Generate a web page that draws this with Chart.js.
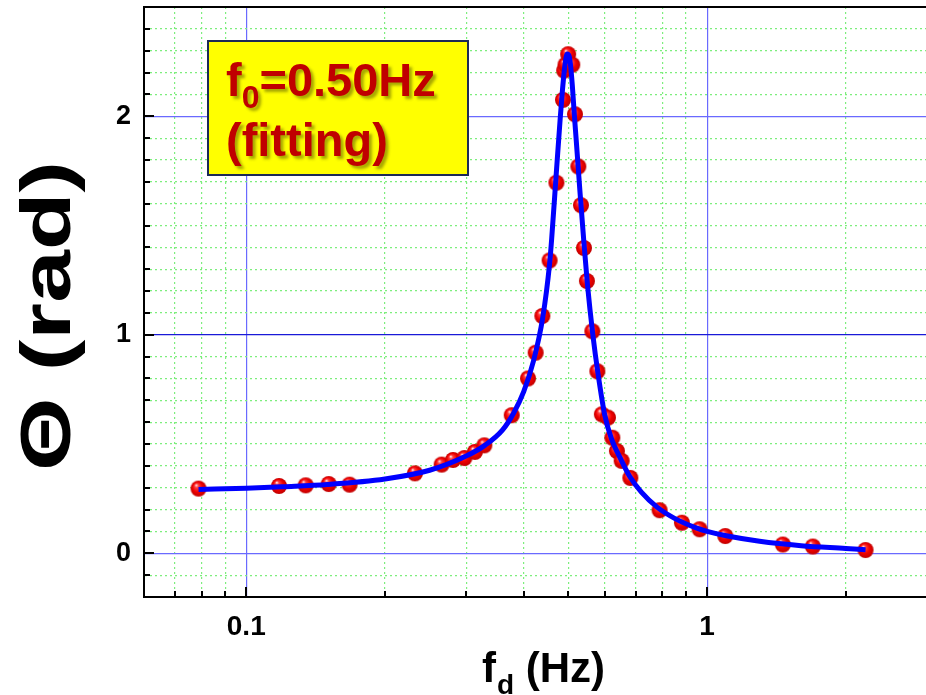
<!DOCTYPE html>
<html>
<head>
<meta charset="utf-8">
<script src="https://cdn.jsdelivr.net/npm/chart.js@4.4.1/dist/chart.umd.min.js"></script>
<style>
  html, body { margin: 0; padding: 0; background: #fff; overflow: hidden; }
  #wrap { position: relative; width: 926px; height: 695px; overflow: hidden; }
  #c { position: absolute; left: 0; top: -2px; }
</style>
</head>
<body>
<div id="wrap"><canvas id="c" width="936" height="697"></canvas></div>
<script>
// ---- measured data (driving frequency in Hz, amplitude in rad) ----
const measFreq = [0.0788, 0.1178, 0.1346, 0.151, 0.1676, 0.2323, 0.2655, 0.281, 0.2974, 0.3134,
  0.3286, 0.3767, 0.4087, 0.4246, 0.439, 0.4552, 0.471, 0.4866, 0.4896, 0.4930,
  0.4995, 0.5099, 0.5167, 0.5255, 0.5324, 0.5405, 0.5485, 0.5636, 0.5778, 0.591,
  0.6093, 0.6229, 0.6372, 0.6525, 0.6814, 0.7886, 0.8817, 0.963, 1.095, 1.46, 1.696, 2.207];
const measTheta = [0.296, 0.308, 0.311, 0.317, 0.314, 0.366, 0.406, 0.427, 0.436, 0.464,
  0.494, 0.632, 0.800, 0.918, 1.086, 1.340, 1.696, 2.075, 2.209, 2.236,
  2.284, 2.236, 2.009, 1.770, 1.593, 1.397, 1.246, 1.016, 0.833, 0.636,
  0.621, 0.529, 0.468, 0.423, 0.345, 0.197, 0.140, 0.110, 0.079, 0.040, 0.031, 0.015];

// ---- fitted curve ----
const fitFreq = [0.0788, 0.1, 0.12, 0.15, 0.2, 0.25, 0.3, 0.33, 0.36, 0.38, 0.40, 0.42, 0.44,
  0.455, 0.46, 0.47, 0.48, 0.485, 0.49, 0.493, 0.497, 0.502, 0.505, 0.51, 0.515, 0.52, 0.525,
  0.53, 0.54, 0.55, 0.565, 0.58, 0.60, 0.62, 0.65, 0.68, 0.72, 0.78, 0.85, 0.95, 1.0, 1.1,
  1.3, 1.6, 2.0, 2.207];
const fitTheta = [0.292, 0.298, 0.305, 0.315, 0.340, 0.380, 0.445, 0.495, 0.565, 0.640, 0.740,
  0.880, 1.080, 1.320, 1.440, 1.720, 1.990, 2.110, 2.210, 2.255, 2.285, 2.275, 2.240, 2.140,
  2.010, 1.890, 1.770, 1.650, 1.430, 1.230, 1.000, 0.820, 0.630, 0.525, 0.430, 0.350, 0.280,
  0.210, 0.160, 0.115, 0.100, 0.080, 0.055, 0.035, 0.022, 0.016];

// ---- axis ticks ----
const xMajorTicks = [0.1, 1];
const xMinorTicks = [0.06, 0.07, 0.08, 0.09, 0.2, 0.3, 0.4, 0.5, 0.6, 0.7, 0.8, 0.9, 2, 3];
const xTickLabels = {0.1: '0.1', 1: '1'};
const yMajorTicks = [0, 1, 2];
const yMinorTicks = [-0.2, -0.1, 0.1, 0.2, 0.3, 0.4, 0.5, 0.6, 0.7, 0.8, 0.9,
  1.1, 1.2, 1.3, 1.4, 1.5, 1.6, 1.7, 1.8, 1.9, 2.1, 2.2, 2.3, 2.4, 2.5];

const xTitleMain = 'f';
const xTitleSub = 'd';
const xTitleRest = ' (Hz)';
const yTitle = 'Θ (rad)';
const noteMain = 'f';
const noteSub = '0';
const noteRest = '=0.50Hz';
const noteLine2 = '(fitting)';

const FONT = '"Liberation Sans", Arial, sans-serif';
const OY = 2; // canvas is shifted up by 2px on the page

function makeSphere(r) {
  const c = document.createElement('canvas');
  c.width = c.height = r * 2 + 2;
  const g = c.getContext('2d');
  const cx = r + 1, cy = r + 1;
  const grad = g.createRadialGradient(cx - r * 0.3, cy - r * 0.45, r * 0.05, cx, cy, r);
  grad.addColorStop(0, '#ffe0e0');
  grad.addColorStop(0.2, '#ff4040');
  grad.addColorStop(0.6, '#f00000');
  grad.addColorStop(1, '#c00000');
  g.fillStyle = grad;
  g.beginPath(); g.arc(cx, cy, r, 0, Math.PI * 2); g.fill();
  return c;
}
const sphere = makeSphere(8);

const isMajorX = v => xMajorTicks.some(t => Math.abs(t - v) < 1e-9);
const isMajorY = v => yMajorTicks.some(t => Math.abs(t - v) < 1e-9);

const decorPlugin = {
  id: 'decor',
  beforeDatasetsDraw(chart) {
    const ctx = chart.ctx;
    ctx.save();
    ctx.fillStyle = '#ffff00';
    ctx.fillRect(208, 41 + OY, 260, 134);
    ctx.strokeStyle = '#1b2a55';
    ctx.lineWidth = 2;
    ctx.strokeRect(208, 41 + OY, 260, 134);
    ctx.shadowColor = 'rgba(60,60,0,0.45)';
    ctx.shadowBlur = 3;
    ctx.shadowOffsetX = 3;
    ctx.shadowOffsetY = 3;
    ctx.fillStyle = '#c00000';
    ctx.textBaseline = 'alphabetic';
    ctx.textAlign = 'left';
    let x = 226;
    ctx.font = 'bold 47px ' + FONT;
    ctx.fillText(noteMain, x, 96 + OY);
    x += ctx.measureText(noteMain).width;
    ctx.font = 'bold 32px ' + FONT;
    ctx.fillText(noteSub, x, 108 + OY);
    x += ctx.measureText(noteSub).width;
    ctx.font = 'bold 47px ' + FONT;
    ctx.fillText(noteRest, x, 96 + OY);
    ctx.fillText(noteLine2, 226, 156 + OY);
    ctx.restore();
  },
  afterDraw(chart) {
    const ctx = chart.ctx;
    const a = chart.chartArea;
    const xs = chart.scales.x, ys = chart.scales.y;
    ctx.save();
    ctx.strokeStyle = '#000';
    ctx.lineWidth = 2;
    // top frame line
    ctx.beginPath(); ctx.moveTo(a.left - 1, a.top); ctx.lineTo(a.right, a.top); ctx.stroke();
    // inward ticks on y axis
    [...yMajorTicks, ...yMinorTicks].forEach(v => {
      const y = Math.round(ys.getPixelForValue(v));
      const len = isMajorY(v) ? 10 : 6;
      ctx.beginPath(); ctx.moveTo(a.left, y); ctx.lineTo(a.left + len, y); ctx.stroke();
    });
    // inward ticks on x axis
    [...xMajorTicks, ...xMinorTicks].forEach(v => {
      const x = Math.round(xs.getPixelForValue(v));
      const len = isMajorX(v) ? 10 : 6;
      ctx.beginPath(); ctx.moveTo(x, a.bottom); ctx.lineTo(x, a.bottom - len); ctx.stroke();
    });
    // axis titles
    ctx.fillStyle = '#000';
    ctx.textBaseline = 'alphabetic';
    ctx.textAlign = 'left';
    let x = 482;
    ctx.font = 'bold 42px ' + FONT;
    ctx.fillText(xTitleMain, x, 682 + OY);
    x += ctx.measureText(xTitleMain).width + 1;
    ctx.font = 'bold 28px ' + FONT;
    ctx.fillText(xTitleSub, x, 694 + OY);
    x += ctx.measureText(xTitleSub).width;
    ctx.font = 'bold 42px ' + FONT;
    ctx.fillText(xTitleRest, x, 682 + OY);

    ctx.translate(70, 316 + OY);
    ctx.rotate(-Math.PI / 2);
    ctx.font = 'bold 70px ' + FONT;
    const w = ctx.measureText(yTitle).width;
    const sx = 310 / w;
    ctx.scale(sx, 1);
    ctx.textAlign = 'center';
    ctx.fillText(yTitle, 0, 0);
    ctx.restore();
  }
};

new Chart(document.getElementById('c'), {
  type: 'scatter',
  data: {
    datasets: [
      {
        label: 'fit',
        data: fitFreq.map((f, i) => ({x: f, y: fitTheta[i]})),
        showLine: true,
        borderColor: '#0000ff',
        borderWidth: 5,
        pointRadius: 0,
        cubicInterpolationMode: 'monotone',
        order: 0
      },
      {
        label: 'data',
        data: measFreq.map((f, i) => ({x: f, y: measTheta[i]})),
        pointStyle: sphere,
        pointRadius: 8,
        order: 1
      }
    ]
  },
  options: {
    responsive: false,
    animation: false,
    layout: { padding: { top: 9, right: 9, left: 0, bottom: 0 } },
    plugins: { legend: { display: false }, tooltip: { enabled: false } },
    scales: {
      x: {
        type: 'logarithmic',
        min: 0.06,
        max: 3,
        afterBuildTicks: s => { s.ticks = [...xMinorTicks, ...xMajorTicks].sort((p, q) => p - q).map(v => ({value: v})); },
        afterFit: s => { s.height = 98; s.paddingLeft = 0; s.paddingRight = 0; },
        ticks: {
          autoSkip: false,
          maxRotation: 0,
          padding: 13,
          color: '#000',
          font: { family: FONT, size: 28, weight: 'bold' },
          callback: v => xTickLabels[v] !== undefined ? xTickLabels[v] : ''
        },
        grid: {
          drawTicks: false,
          color: c => (c.tick && isMajorX(c.tick.value)) ? '#6a6aff' : '#7dee7d',
          lineWidth: 1.2
        },
        border: {
          display: true,
          color: '#000',
          width: 2,
          dash: c => (c.tick && !isMajorX(c.tick.value)) ? [2, 3] : []
        }
      },
      y: {
        type: 'linear',
        min: -0.2,
        max: 2.5,
        afterBuildTicks: s => { s.ticks = [...yMinorTicks, ...yMajorTicks].sort((p, q) => p - q).map(v => ({value: v})); },
        afterFit: s => { s.width = 144; s.paddingTop = 0; s.paddingBottom = 0; },
        ticks: {
          autoSkip: false,
          padding: 13,
          color: '#000',
          font: { family: FONT, size: 27, weight: 'bold' },
          callback: v => isMajorY(v) ? String(Math.round(v)) : ''
        },
        grid: {
          drawTicks: false,
          color: c => {
            if (c.tick && isMajorY(c.tick.value)) return Math.abs(c.tick.value - 1) < 1e-9 ? '#1a1ad8' : '#6a6aff';
            return '#7dee7d';
          },
          lineWidth: 1.2
        },
        border: {
          display: true,
          color: '#000',
          width: 2,
          dash: c => (c.tick && !isMajorY(c.tick.value)) ? [2, 3] : []
        }
      }
    }
  },
  plugins: [decorPlugin]
});
</script>
</body>
</html>
